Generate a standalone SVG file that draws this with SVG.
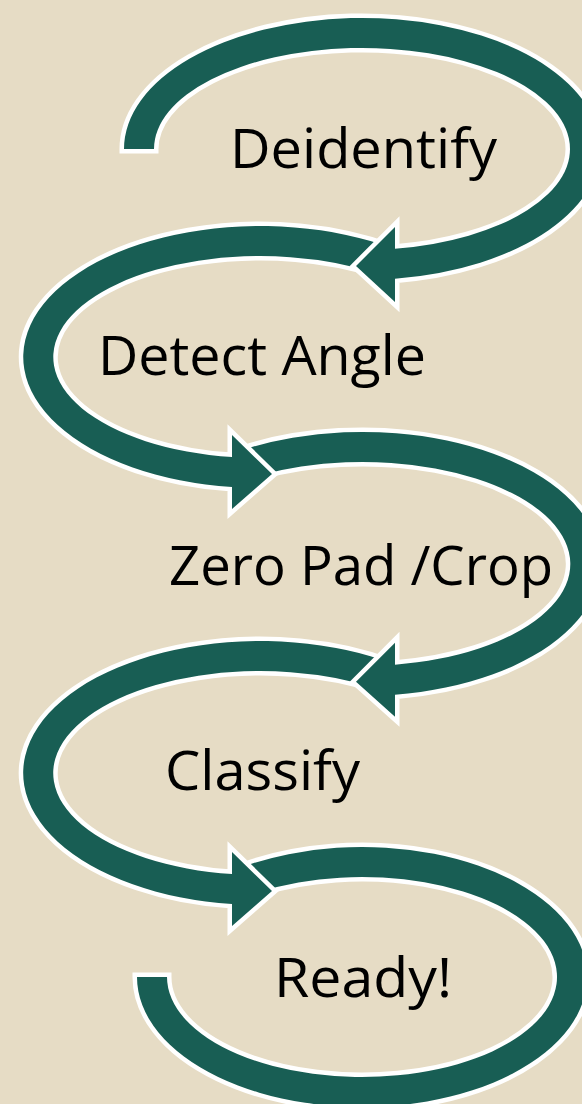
<svg xmlns="http://www.w3.org/2000/svg" width="582" height="1104" viewBox="0 0 582 1104">
  <style>
    .arrow { fill: #185E54; stroke: #FFFFFF; stroke-width: 9; paint-order: stroke; stroke-linejoin: miter; stroke-miterlimit: 10; }
    .label { font-family: "Open Sans", Lato, "Liberation Sans", sans-serif; font-size: 54px; fill: #000000; font-variant-ligatures: none; }
  </style>
  <rect x="0" y="0" width="582" height="1104" fill="#E6DCC5"/>
  <g id="connectors">
    <path id="arc5" class="arrow" d="M 244.1 866.3 A 225 130 0 1 1 137 977 L 167 977 A 195 100 0 1 0 259.9 891.8 Z"/>
    <path id="arc4" class="arrow" d="M 393.5 663.9 A 237 132 0 1 0 232 904.1 L 232 926 L 272 891 L 232 852 L 232 874.1 A 207 102 0 1 1 376.6 688.7 Z"/>
    <path id="arc3" class="arrow" d="M 244.7 449.2 A 238 132 0 1 1 395 694.7 L 395 716.7 L 356 681.7 L 395 642.7 L 395 664.7 A 208 102 0 1 0 259.5 475.3 Z"/>
    <path id="arc2" class="arrow" d="M 393.5 248.7 A 237 131 0 1 0 232 487.1 L 232 509 L 272 474 L 232 435 L 232 457.1 A 207 101 0 1 1 376.6 273.5 Z"/>
    <path id="arc1" class="arrow" d="M 124 149 A 238 131 0 1 1 395 278.7 L 395 302 L 356 266 L 395 227 L 395 248.7 A 208 101 0 1 0 154 149 Z"/>
  </g>
  <g id="node-deidentify">
    <text class="label" x="230" y="168" textLength="267" lengthAdjust="spacingAndGlyphs">Deidentify</text>
  </g>
  <g id="node-detect-angle">
    <text class="label" x="98" y="375" textLength="328" lengthAdjust="spacingAndGlyphs">Detect Angle</text>
  </g>
  <g id="node-zero-pad-crop">
    <text class="label" x="169" y="585" textLength="384" lengthAdjust="spacingAndGlyphs">Zero Pad /Crop</text>
  </g>
  <g id="node-classify">
    <text class="label" x="165" y="790" textLength="195" lengthAdjust="spacingAndGlyphs">Classify</text>
  </g>
  <g id="node-ready">
    <text class="label" x="274" y="997" textLength="178" lengthAdjust="spacingAndGlyphs">Ready!</text>
  </g>
</svg>
